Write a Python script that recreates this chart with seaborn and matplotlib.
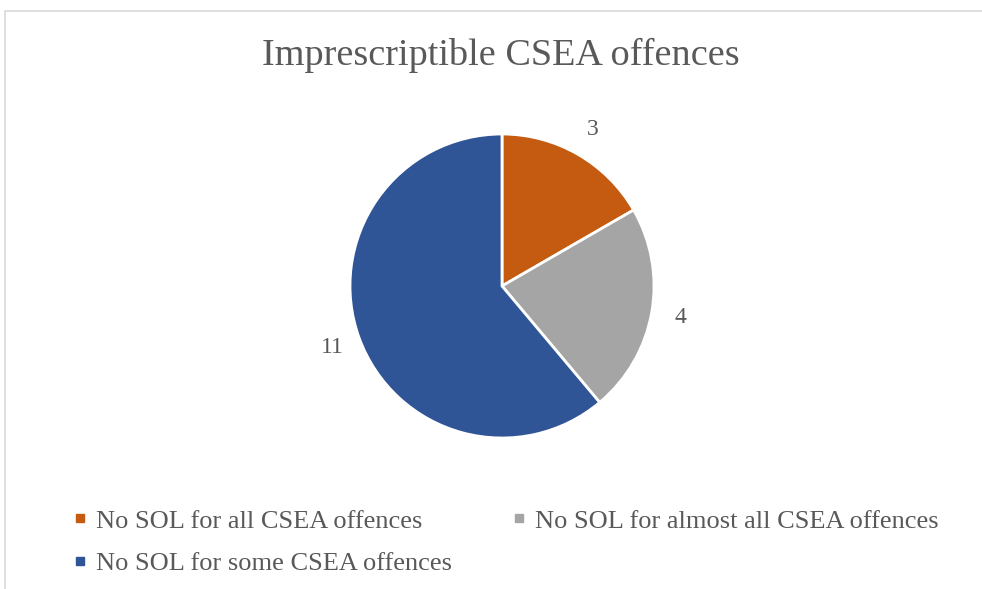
import matplotlib
matplotlib.use("Agg")
import matplotlib.pyplot as plt
import seaborn as sns
from matplotlib.lines import Line2D
from matplotlib.patches import Rectangle

categories = ["No SOL for all CSEA offences",
              "No SOL for almost all CSEA offences",
              "No SOL for some CSEA offences"]
values = [3, 4, 11]
colors = ["#C55A11", "#A5A5A5", "#2F5597"]
title = "Imprescriptible CSEA offences"

sns.set_theme(style="white")
plt.rcParams["font.family"] = ["Liberation Serif", "DejaVu Serif"]
text_color = "#595959"

W, H = 982, 589
fig = plt.figure(figsize=(W / 100, H / 100), dpi=100)

# chart border (cropped on right and bottom like the reference)
fig.patches.append(Rectangle((5 / W, -0.1), 1.2, (H - 11) / H + 0.1,
                             transform=fig.transFigure, fill=False,
                             edgecolor="#D9D9D9", linewidth=1.2))

cx, cy, r = 502, H - 286, 152
lim = 1.3
side = r * lim * 2
ax = fig.add_axes([(cx - side / 2) / W, (cy - side / 2) / H, side / W, side / H])

wedges, texts = ax.pie(values, labels=[str(v) for v in values], colors=colors,
                       startangle=90, counterclock=False, labeldistance=1.19,
                       wedgeprops=dict(edgecolor="white", linewidth=2),
                       textprops=dict(color=text_color, fontsize=17))
for t in texts:
    t.set_ha("center")
    t.set_va("center")
ax.set_xlim(-lim, lim)
ax.set_ylim(-lim, lim)
ax.set_aspect("equal")
ax.axis("off")

fig.text(501 / W, 1 - 55 / H, title, ha="center", va="center",
         fontsize=27.5, color=text_color)

handles = [Line2D([], [], marker="s", linestyle="", markersize=6,
                  markerfacecolor=c, markeredgecolor=c) for c in colors]
order = [0, 2, 1]
fig.legend([handles[i] for i in order], [categories[i] for i in order],
           ncol=2, loc="upper left", bbox_to_anchor=(60 / W, 1 - 496 / H),
           frameon=False, fontsize=19, labelcolor=text_color,
           handlelength=0.5, handletextpad=0.35, columnspacing=2.3,
           labelspacing=0.72, borderpad=0)

fig.savefig("out.png", dpi=100)
